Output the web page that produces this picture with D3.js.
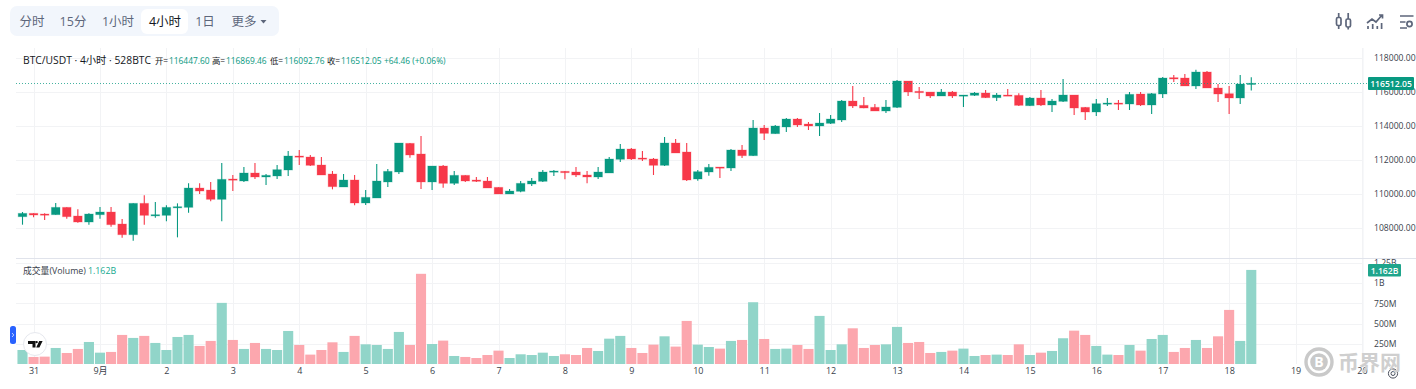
<!DOCTYPE html>
<html><head><meta charset="utf-8">
<script src="https://cdn.jsdelivr.net/npm/d3@7/dist/d3.min.js"></script>
<style>
html,body{margin:0;padding:0;background:#fff;overflow:hidden}
svg{display:block}
text{font-family:"Open Sans","Noto Sans CJK SC",sans-serif}
.axis path,.axis line{display:none}
</style></head><body><div id="chart"></div>
<script>
const opens=[108665,108861,108822,108783,109214,108705,108352,108783,108940,108234,107606,109450,108724,108744,109195,109214,110352,110234,109685,110881,
110764,111235,111000,111059,111411,112235,112176,111706,111176,110411,110823,109470,109764,110706,111294,112980,112353,110706,111647,110627,
111098,110823,110764,110392,110000,110156,110588,110745,111313,111333,111294,111117,111000,111235,112039,112647,112117,112059,111686,113000,
112470,110882,111293,111587,111529,112588,112254,113882,113549,113941,114411,114117,114000,114156,114352,115470,115215,115098,114882,115098,
116647,116039,115999,115764,115999,115784,115803,115941,115666,115823,115803,115195,115646,115235,115450,115823,115097,114823,115293,115352,
115293,115882,115235,115882,116843,116823,116353,117176,116235,115902,115647,116447.60];
const highs=[108940,108861,108861,109469,109214,109097,108861,109234,109234,108528,109450,109920,109528,109332,109450,110626,110626,110705,111823,111117,
111588,111823,111176,111706,112529,112588,112294,112176,111353,111176,111117,110235,111764,111470,113000,113000,113412,111647,111706,111353,
111098,111000,111000,110392,110294,110764,110941,111411,111411,111353,111588,111353,111588,112176,112941,112706,112529,112117,113353,113235,
113000,111411,111764,111587,112646,112882,114352,114058,114058,114470,114470,114235,114764,114647,115529,116353,115706,115294,115529,116706,
116647,116294,115999,116176,116058,115823,115999,116117,115941,116176,115921,115705,116117,115588,116764,115823,115117,115588,115646,115529,
115999,115999,115941,116882,117000,117059,117314,117235,116470,116353,117000,116869.46];
const lows=[108195,108626,108469,108783,108548,108312,108195,108548,108077,107430,107254,108195,108607,108391,107450,108901,109999,109567,108391,110175,
110706,110882,110529,110882,111059,111706,111647,111117,110274,110411,109333,109352,109764,110411,111176,112137,110294,110235,110372,110529,
110706,110706,110353,110000,110000,110098,110470,110706,111059,110862,111000,110627,110882,111235,111882,112000,111941,111117,111647,112412,
110764,110784,111078,110940,111352,112117,112235,113176,113549,113647,113941,113764,113411,114117,114235,115058,115039,114882,114764,115058,
115764,115588,115646,115764,115646,115117,115764,115646,115470,115764,115176,115176,115176,114823,115411,114646,114352,114588,115176,114940,
114940,115176,114705,115647,116588,116353,116176,116235,115411,114705,115294,116092.76];
const closes=[108861,108763,108763,109214,108665,108352,108822,108940,108195,107606,109450,108744,108783,109214,109254,110352,110175,109685,110862,110822,
111235,111000,111098,111431,112235,112196,111686,111117,110431,110823,109470,109803,110764,111333,113000,112294,110706,111647,110627,111098,
110764,110745,110353,110000,110176,110627,110764,111294,111353,111255,111117,111000,111294,112059,112647,112059,112059,111686,113000,112412,
110823,111313,111568,111548,112588,112254,113882,113568,114000,114411,114058,114000,114176,114411,115470,115176,115058,114882,115117,116647,
116000,115961,115764,115999,115764,115823,115941,115666,115823,115784,115215,115646,115235,115470,115823,115058,114823,115313,115352,115293,
115862,115235,115901,116823,116764,116353,117176,116235,115882,115647,116470,116512.05];
const volumes=[173,87,91,198,136,186,272,140,149,359,322,347,260,173,334,359,223,285,755,297,
186,260,186,173,408,235,116,173,268,149,347,243,235,186,396,235,1114,247,289,99,
87,74,111,165,74,120,111,140,99,120,111,198,161,313,347,198,136,239,342,215,
532,239,210,190,285,297,763,309,186,190,235,186,594,173,243,441,198,235,243,458,
260,272,136,149,165,190,99,111,116,111,243,111,140,161,318,412,359,223,116,111,
235,165,309,359,149,198,297,198,342,668,285,1162];
const priceTicks=[108000,110000,112000,114000,116000,118000];
const volumeTicks=[250,500,750,1000,1250];
const dayLabels=["31","9月","2","3","4","5","6","7","8","9","10","11","12","13","14","15","16","17","18","19","20"];
const dayBarIndex=dayLabels.map((d,k)=>1+6*k);
const lastPrice=116512.05, lastVolume=1162;
const timeframes=[["分时",32,false],["15分",73,false],["1小时",118,false],["4小时",165,true],["1日",205,false],["更多",244,false]];

const W=1416,H=389;
const UP="#089981",DOWN="#f73849",UPV="#91d5c9",DOWNV="#fca7ae",GRID="#f2f3f5";
const L=16,R=1363,PT=48,PB=258,VT=260,VB=364;
const x=d3.scaleLinear().domain([0,1]).range([22.5,33.57]);
const y=d3.scaleLinear().domain([108000,118000]).range([228,58]);
const v=d3.scaleLinear().domain([0,1250]).range([364,262.8]);
const bw=8.6, vw=10.1;

const svg=d3.select("#chart").append("svg").attr("width",W).attr("height",H);

// toolbar
svg.append("rect").attr("x",10).attr("y",6).attr("width",269).attr("height",30).attr("rx",7).attr("fill","#f2f6fc");
svg.append("rect").attr("x",141).attr("y",9).attr("width",47).attr("height",25).attr("rx",6).attr("fill","#fff");
svg.selectAll(".tf").data(timeframes).join("text").attr("class","tf")
 .attr("x",d=>d[1]).attr("y",26).attr("text-anchor","middle").attr("font-size",12.5)
 .attr("fill",d=>d[2]?"#131722":"#5d667b").text(d=>d[0]);
svg.append("path").attr("d","M260.5 20h6l-3 3.6z").attr("fill","#5d667b");

// top right icons
const ic=svg.append("g").attr("fill","none").attr("stroke","#5d667b").attr("stroke-width",1.7);
ic.append("rect").attr("x",1336.5).attr("y",17.5).attr("width",4.5).attr("height",8).attr("rx",1.5);
ic.append("rect").attr("x",1346).attr("y",19).attr("width",4.5).attr("height",8).attr("rx",1.5);
ic.append("path").attr("d","M1338.7 13v4.5M1338.7 25.5V29M1348.2 13v6M1348.2 27v2.5");
ic.append("path").attr("d","M1367 23l5-4 4 3 6-7M1379 15h3.5v3.5M1368 29v-3M1372.7 29v-5M1377.3 29v-3M1381.6 29v-6");
ic.append("path").attr("d","M1400 16h13.5M1400 22h5.5M1400 28h7");
ic.append("circle").attr("cx",1409.5).attr("cy",24).attr("r",2.6);

// gridlines
const gx=svg.append("g");
gx.selectAll("line").data(dayBarIndex).join("line")
 .attr("x1",d=>Math.round(x(d))+.5).attr("x2",d=>Math.round(x(d))+.5).attr("y1",PT).attr("y2",VB)
 .attr("stroke",GRID);
const gy=svg.append("g");
gy.selectAll("line").data(priceTicks).join("line")
 .attr("x1",L).attr("x2",R).attr("y1",d=>Math.round(y(d))+.5).attr("y2",d=>Math.round(y(d))+.5).attr("stroke",GRID);
const gv=svg.append("g");
gv.selectAll("line").data(volumeTicks).join("line")
 .attr("x1",L).attr("x2",R).attr("y1",d=>Math.round(v(d))+.5).attr("y2",d=>Math.round(v(d))+.5).attr("stroke",GRID);
svg.append("line").attr("x1",R+.5).attr("x2",R+.5).attr("y1",PT).attr("y2",VB).attr("stroke","#f7f8fa");

// volume bars
const idx=d3.range(opens.length);
svg.append("g").selectAll("rect").data(idx).join("rect")
 .attr("x",i=>x(i)-vw/2).attr("width",vw)
 .attr("y",i=>v(volumes[i])).attr("height",i=>v(0)-v(volumes[i]))
 .attr("fill",i=>closes[i]>=opens[i]?UPV:DOWNV);

// wicks and bodies (left unsnapped so they soften across pixels like the reference)
const cg=svg.append("g");
cg.selectAll(".w").data(idx).join("line").attr("class","w")
 .attr("x1",i=>x(i)).attr("x2",i=>x(i)).attr("y1",i=>y(highs[i])).attr("y2",i=>y(lows[i]))
 .attr("stroke",i=>closes[i]>=opens[i]?UP:DOWN).attr("stroke-width",1.1);
cg.selectAll(".b").data(idx).join("rect").attr("class","b")
 .attr("x",i=>x(i)-bw/2).attr("width",bw)
 .attr("y",i=>y(Math.max(opens[i],closes[i])))
 .attr("height",i=>Math.max(1.2,Math.abs(y(opens[i])-y(closes[i]))))
 .attr("fill",i=>closes[i]>=opens[i]?UP:DOWN)
 .attr("stroke",i=>closes[i]>=opens[i]?UP:DOWN).attr("stroke-opacity",.28).attr("stroke-width",1);

// last price line
svg.append("line").attr("x1",L).attr("x2",1368).attr("y1",Math.round(y(lastPrice))+.5).attr("y2",Math.round(y(lastPrice))+.5)
 .attr("stroke",UP).attr("stroke-opacity",.75).attr("stroke-dasharray","1 2");

// pane separator
svg.append("line").attr("x1",L).attr("x2",W).attr("y1",258.5).attr("y2",258.5).attr("stroke","#e0e3eb");

// axes
const fmtP=d3.format(".2f");
svg.append("g").attr("class","axis").attr("transform","translate(1366,0)")
 .call(d3.axisRight(y).tickValues(priceTicks).tickFormat(fmtP).tickSize(0).tickPadding(8))
 .call(g=>g.selectAll("text").attr("font-size",8.6).attr("fill","#3a3f4b").attr("font-family","'Open Sans',sans-serif"));
svg.append("g").attr("class","axis").attr("transform","translate(1366,0)")
 .call(d3.axisRight(v).tickValues(volumeTicks).tickFormat(d=>d>=1000?(d/1000)+"B":d+"M").tickSize(0).tickPadding(8))
 .call(g=>g.selectAll("text").attr("font-size",8.6).attr("fill","#3a3f4b").attr("font-family","'Open Sans',sans-serif"));
svg.append("g").attr("class","axis").attr("transform","translate(0,366)")
 .call(d3.axisBottom(x).tickValues(dayBarIndex).tickFormat((d,k)=>dayLabels[k]).tickSize(0).tickPadding(2))
 .call(g=>g.selectAll("text").attr("font-size",9).attr("fill","#3a3f4b").attr("font-family","'Open Sans','Noto Sans CJK SC',sans-serif"));

// price tag
svg.append("rect").attr("x",1368).attr("y",77).attr("width",46).attr("height",13).attr("rx",1).attr("fill",UP);
svg.append("text").attr("x",1391).attr("y",86.8).attr("text-anchor","middle").attr("font-size",8.6).attr("font-weight",600).attr("fill","#fff").text(fmtP(lastPrice));
// volume tag
svg.append("rect").attr("x",1368).attr("y",264).attr("width",33).attr("height",12.5).attr("rx",1).attr("fill","#1fa58c");
svg.append("text").attr("x",1384.5).attr("y",273.5).attr("text-anchor","middle").attr("font-size",8.6).attr("font-weight",600).attr("fill","#fff").text("1.162B");

// legend
svg.append("text").attr("x",23).attr("y",64).attr("font-size",10.3).attr("fill","#131722").text("BTC/USDT · 4小时 · 528BTC");
const legend=[["开=",155,"116447.60",169],["高=",212,"116869.46",226],["低=",270,"116092.76",284],["收=",327,"116512.05",341]];
legend.forEach(l=>{
 svg.append("text").attr("x",l[1]).attr("y",64).attr("font-size",8.4).attr("fill","#131722").text(l[0]);
 svg.append("text").attr("x",l[3]).attr("y",64).attr("font-size",8.4).attr("fill",UP).text(l[2]);
});
svg.append("text").attr("x",384).attr("y",64).attr("font-size",8.4).attr("fill",UP).text("+64.46 (+0.06%)");
svg.append("text").attr("x",23).attr("y",274).attr("font-size",8.8).attr("fill","#3a3f4b").text("成交量(Volume)");
svg.append("text").attr("x",88).attr("y",274).attr("font-size",8.8).attr("fill","#14a98f").text("1.162B");

// blue handle
svg.append("rect").attr("x",10).attr("y",326).attr("width",6).attr("height",18).attr("rx",2.5).attr("fill","#2962ff");
svg.append("path").attr("d","M12 333l1.8 2-1.8 2").attr("fill","none").attr("stroke","#fff").attr("stroke-width",.7);

// TV logo
svg.append("circle").attr("cx",35).attr("cy",344).attr("r",11.5).attr("fill","#fff").attr("stroke","#e6e8ee");
svg.append("path").attr("d","M28 341h7.5v6.4h-3V344H28zM36.2 347.4l3-6.4h3.4l-3.2 6.4z").attr("fill","#111");
svg.append("circle").attr("cx",36.6).attr("cy",342.1).attr("r",1.2).attr("fill","#111");

// gear
svg.append("circle").attr("cx",1393).attr("cy",373.5).attr("r",2).attr("fill","none").attr("stroke","#4a4f5c");
svg.append("circle").attr("cx",1393).attr("cy",373.5).attr("r",4.6).attr("fill","none").attr("stroke","#4a4f5c").attr("stroke-width",1);

// watermark
const wm=svg.append("g");
wm.append("circle").attr("cx",1319).attr("cy",362).attr("r",13).attr("fill","none").attr("stroke","#c9c9c9").attr("stroke-width",3.4);
wm.append("circle").attr("cx",1319).attr("cy",362).attr("r",8.8).attr("fill","#c9c9c9");
wm.append("text").attr("x",1319).attr("y",367).attr("text-anchor","middle").attr("font-size",14).attr("font-weight",700).attr("fill","#fff").text("B");
wm.append("text").attr("x",1338).attr("y",369.5).attr("font-size",21).attr("font-weight",700).attr("fill","#cfcfcf").attr("font-family","'Noto Sans CJK SC',sans-serif").text("币界网");
</script></body></html>
